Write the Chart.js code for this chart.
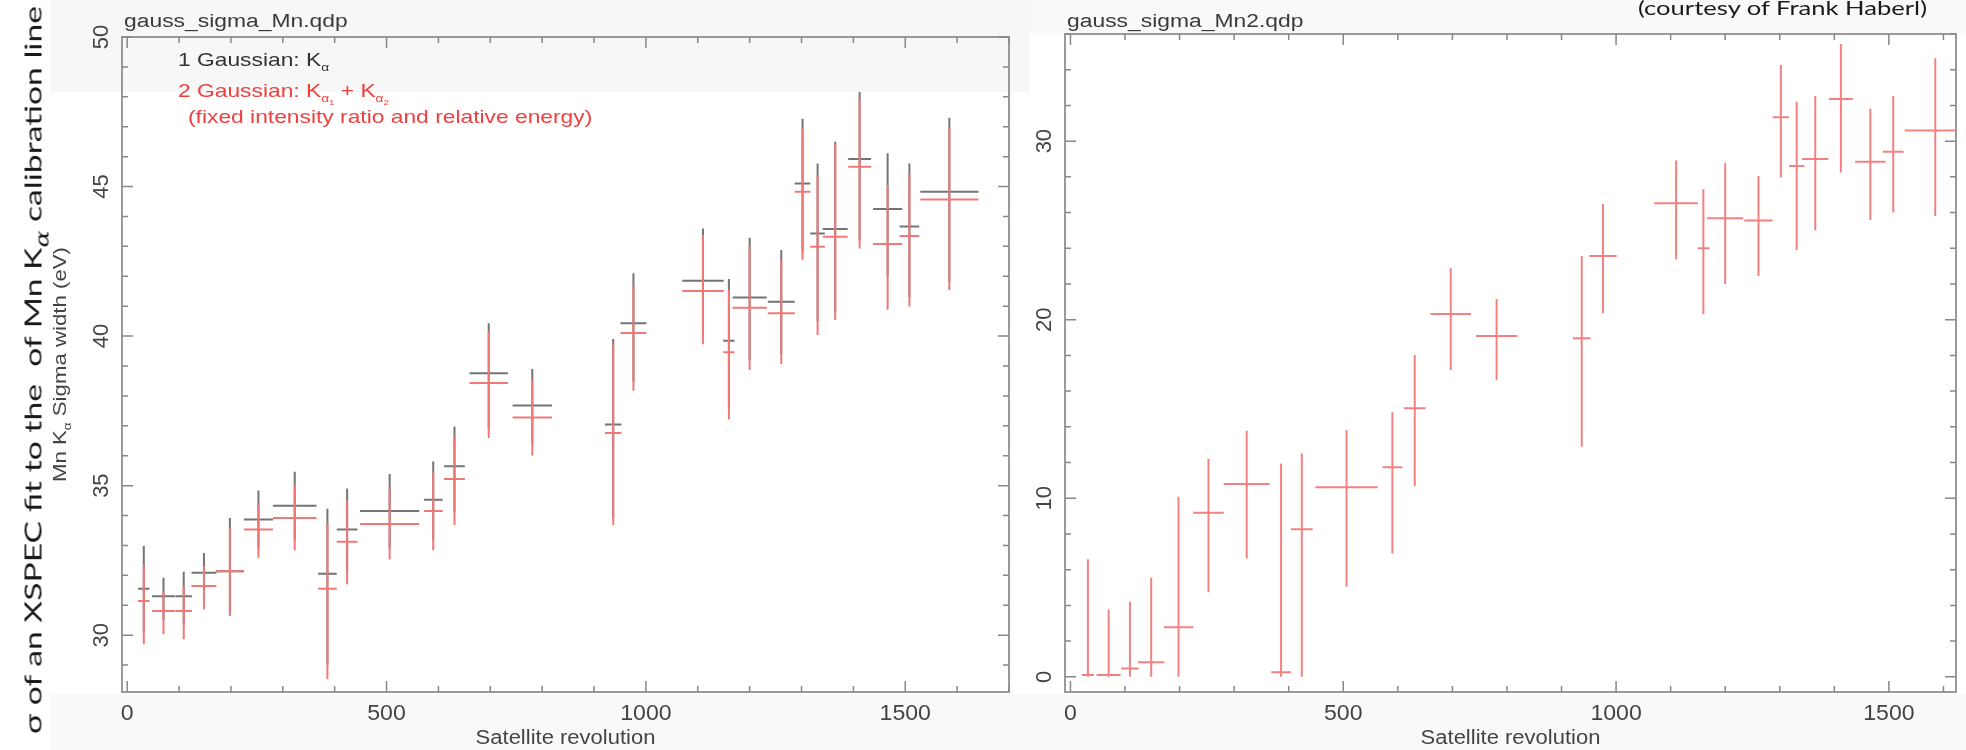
<!DOCTYPE html>
<html>
<head>
<meta charset="utf-8">
<script src="https://cdn.jsdelivr.net/npm/chart.js@4.4.0/dist/chart.umd.min.js"></script>
<style>
  body { margin: 0; width: 1966px; height: 750px; background: #fff; position: relative; overflow: hidden; }
  .band { position: absolute; background: #f7f7f7; }
  canvas { position: absolute; top: 0; }
  #mn1 { left: 0; }
  #mn2 { left: 1030px; }
  .note { position: absolute; font-family: Lato, "Open Sans", sans-serif; color: #1a1a1a; white-space: nowrap; }
  #side { left: 34px; top: 370px; font-size: 24px; line-height: 28px; transform-origin: 0 0; }
  #side i { font-family: "DejaVu Serif", serif; font-size: 18px; position: relative; top: 7px; }
  #credit { font-size: 20px; top: -5px; left: 1638px; transform-origin: 0 0; }
</style>
</head>
<body>
<div class="band" style="left:50px;top:0;width:980px;height:92px"></div>
<div class="band" style="left:50px;top:694px;width:1916px;height:56px;background:#f9f9f9"></div>
<div class="band" style="left:1030px;top:0;width:936px;height:33px;background:#f9f9f9"></div>
<canvas id="mn1" width="1030" height="750"></canvas>
<canvas id="mn2" width="936" height="750"></canvas>
<div class="note" id="side">σ of an XSPEC fit to the &nbsp;of Mn K<i>α</i> calibration line</div>
<div class="note" id="credit">(courtesy of Frank Haberl)</div>
<script>
// satellite revolution bins (centre and half width)
const revolution   = [32, 70, 109, 148, 198, 253, 323, 386, 424, 506, 590, 631, 697, 781, 937, 976, 1110, 1160, 1200, 1261, 1302, 1331, 1365, 1412, 1466, 1508, 1585];
const revHalfWidth = [11, 22, 16, 24, 27, 28, 42, 18, 20, 57, 18, 20, 37, 38, 16, 25, 40, 11, 33, 26, 15, 14, 24, 22, 28, 19, 56];

// gauss_sigma_Mn.qdp : 1 Gaussian (K alpha)
const sigma1G     = [31.55, 31.30, 31.30, 32.09, 32.14, 33.87, 34.33, 32.05, 33.53, 34.15, 34.53, 35.65, 38.76, 37.68, 37.04, 40.43, 41.85, 39.84, 41.29, 41.15, 45.10, 43.43, 43.58, 45.92, 44.25, 43.66, 44.83];
const sigma1GLow  = [30.10, 30.50, 30.35, 31.30, 30.70, 32.90, 33.20, 29.00, 32.10, 32.90, 33.20, 34.10, 36.90, 36.40, 33.90, 38.50, 40.10, 37.60, 39.20, 39.40, 42.80, 40.50, 40.80, 43.20, 42.00, 41.30, 41.80];
const sigma1GHigh = [32.98, 31.92, 32.12, 32.75, 33.92, 34.84, 35.46, 34.23, 34.90, 35.39, 35.81, 36.98, 40.43, 38.90, 39.90, 42.10, 43.60, 41.91, 43.29, 42.88, 47.27, 45.77, 46.50, 48.16, 46.11, 45.77, 47.30];

// gauss_sigma_Mn.qdp : 2 Gaussians (K alpha1 + K alpha2)
const sigma2G     = [31.14, 30.81, 30.81, 31.64, 32.14, 33.53, 33.92, 31.55, 33.12, 33.72, 34.15, 35.22, 38.43, 37.28, 36.76, 40.10, 41.51, 39.46, 40.95, 40.76, 44.83, 42.99, 43.32, 45.66, 43.08, 43.35, 44.57];
const sigma2GLow  = [29.70, 30.03, 29.86, 30.86, 30.64, 32.59, 32.84, 28.53, 31.70, 32.53, 32.84, 33.68, 36.59, 36.01, 33.68, 38.17, 39.73, 37.21, 38.87, 39.06, 42.55, 40.04, 40.54, 42.93, 40.88, 40.99, 41.54];
const sigma2GHigh = [32.37, 31.47, 31.64, 32.31, 33.59, 34.37, 35.04, 33.76, 34.50, 34.95, 35.46, 36.65, 40.15, 38.54, 39.73, 41.71, 43.38, 41.54, 42.99, 42.55, 46.94, 45.38, 46.44, 47.94, 45.05, 45.44, 47.00];

// gauss_sigma_Mn2.qdp
const sigmaMn2     = [0.10, 0.10, 0.47, 0.81, 2.77, 9.19, 10.80, 0.25, 8.27, 10.61, 11.73, 15.04, 20.32, 19.09, 18.96, 23.57, 26.52, 24.00, 25.68, 25.55, 31.34, 28.61, 29.00, 32.36, 28.85, 29.41, 30.59];
const sigmaMn2Low  = [0, 0, 0, 0, 0, 4.73, 6.63, 0, 0, 5.04, 6.91, 10.68, 17.18, 16.62, 12.89, 20.36, 23.38, 20.30, 22.00, 22.45, 27.97, 23.90, 24.99, 28.24, 25.58, 26.00, 25.81];
const sigmaMn2High = [6.58, 3.77, 4.20, 5.55, 10.08, 12.21, 13.78, 11.95, 12.51, 13.82, 14.81, 18.02, 22.88, 21.16, 23.57, 26.48, 28.91, 27.30, 28.76, 28.05, 34.27, 32.21, 32.53, 35.44, 31.81, 32.53, 34.64];

// tick labels
const xTickLabels = [0, 500, 1000, 1500];
const yTicksMn    = [30, 35, 40, 45, 50];
const yTicksMn2   = [0, 10, 20, 30];

const FONT = '"Liberation Sans", Arial, sans-serif';
const RED = '#f27878';
const PINK = '#f28282';
const BLACK = '#747474';

function crosses(y, lo, hi) {
  return revolution.map((x, i) => ({
    x, y: y[i],
    xl: x - revHalfWidth[i], xh: x + revHalfWidth[i],
    yl: lo[i], yh: hi[i]
  }));
}

// text made of runs, some of them subscripts (level 1 or 2)
function drawRuns(ctx, runs, x, y, size, color, align, rot, sx) {
  ctx.save();
  ctx.translate(x, y);
  if (rot) ctx.rotate(rot);
  ctx.scale(sx || 1, 1);
  ctx.fillStyle = color;
  ctx.textBaseline = 'alphabetic';
  const sz = r => r.sub === 2 ? size * 0.42 : r.sub === 1 ? size * 0.6 : size;
  const dy = r => r.sub === 2 ? size * 0.42 : r.sub === 1 ? size * 0.25 : 0;
  let w = 0;
  runs.forEach(r => { ctx.font = sz(r) + 'px ' + FONT; w += ctx.measureText(r.t).width; });
  let cx = align === 'center' ? -w / 2 : align === 'right' ? -w : 0;
  runs.forEach(r => {
    ctx.font = sz(r) + 'px ' + FONT;
    ctx.fillText(r.t, cx, dy(r));
    cx += ctx.measureText(r.t).width;
  });
  ctx.restore();
}

const errorBars = {
  id: 'errorBars',
  afterDatasetsDraw(chart) {
    const { ctx, chartArea: a, scales: { x, y } } = chart;
    ctx.save();
    ctx.beginPath();
    ctx.rect(a.left, a.top, a.right - a.left, a.bottom - a.top);
    ctx.clip();
    chart.data.datasets.forEach(ds => {
      ctx.strokeStyle = ds.borderColor;
      ctx.lineWidth = ds.borderWidth;
      ds.data.forEach(p => {
        const px = x.getPixelForValue(p.x), py = y.getPixelForValue(p.y);
        ctx.beginPath();
        ctx.moveTo(x.getPixelForValue(p.xl), py);
        ctx.lineTo(x.getPixelForValue(p.xh), py);
        ctx.moveTo(px, y.getPixelForValue(p.yl));
        ctx.lineTo(px, y.getPixelForValue(p.yh));
        ctx.stroke();
      });
    });
    ctx.restore();
  }
};

// qdp style frame: inward ticks on all four sides, rotated y labels
const qdpFrame = {
  id: 'qdpFrame',
  afterDraw(chart, args, o) {
    const { ctx, chartArea: a, scales: { x, y } } = chart;
    ctx.save();
    ctx.strokeStyle = '#9a9a9a';
    ctx.lineWidth = 2;
    ctx.strokeRect(a.left, a.top, a.right - a.left, a.bottom - a.top);
    ctx.lineWidth = 1.5;
    ctx.strokeStyle = '#888';
    ctx.beginPath();
    for (let v = 0; v <= x.max; v += o.xMinor) {
      const px = x.getPixelForValue(v);
      const len = v % o.xMajor === 0 ? 11 : 6;
      ctx.moveTo(px, a.bottom); ctx.lineTo(px, a.bottom - len);
      ctx.moveTo(px, a.top); ctx.lineTo(px, a.top + len);
    }
    for (let v = Math.ceil(y.min / o.yMinor) * o.yMinor; v <= y.max; v += o.yMinor) {
      const py = y.getPixelForValue(v);
      const len = v % o.yMajor === 0 ? 11 : 6;
      ctx.moveTo(a.left, py); ctx.lineTo(a.left + len, py);
      ctx.moveTo(a.right, py); ctx.lineTo(a.right - len, py);
    }
    ctx.stroke();

    const grey = '#444';
    xTickLabels.forEach(v => {
      drawRuns(ctx, [{ t: String(v) }], x.getPixelForValue(v), a.bottom + 28, 22, grey, 'center', 0, 1.05);
    });
    o.yTicks.forEach(v => {
      drawRuns(ctx, [{ t: String(v) }], a.left - 22 + 8, y.getPixelForValue(v), 22, grey, 'center', -Math.PI / 2, 1);
    });
    drawRuns(ctx, [{ t: 'Satellite revolution' }], (a.left + a.right) / 2, a.bottom + 52, 20, grey, 'center', 0, 1.1);
    drawRuns(ctx, [{ t: o.title }], a.left + 2, 27, 18, '#3a3a3a', 'left', 0, 1.27);
    if (o.yTitle) {
      drawRuns(ctx, o.yTitle, 66, (a.top + a.bottom) / 2, 19, grey, 'center', -Math.PI / 2, 1.17);
    }
    if (o.legend) {
      o.legend.forEach(l => drawRuns(ctx, l.runs, l.x, l.y, 19, l.color, 'left', 0, 1.2));
    }
    ctx.restore();
  }
};

function makeChart(id, datasets, padding, yMin, yMax, xMax, frame) {
  return new Chart(document.getElementById(id), {
    type: 'scatter',
    data: { datasets },
    options: {
      responsive: false,
      animation: false,
      layout: { padding },
      elements: { point: { radius: 0, hoverRadius: 0 } },
      scales: {
        x: { type: 'linear', min: -10, max: xMax, display: false },
        y: { type: 'linear', min: yMin, max: yMax, display: false }
      },
      plugins: { legend: { display: false }, tooltip: { enabled: false }, qdpFrame: frame }
    },
    plugins: [errorBars, qdpFrame]
  });
}

makeChart('mn1', [
  { label: '1 Gaussian', data: crosses(sigma1G, sigma1GLow, sigma1GHigh), borderColor: BLACK, borderWidth: 2 },
  { label: '2 Gaussian', data: crosses(sigma2G, sigma2GLow, sigma2GHigh), borderColor: RED, borderWidth: 2 }
], { left: 122, right: 21, top: 37, bottom: 58 }, 28.1, 50, 1700, {
  xMinor: 100, xMajor: 500, yMinor: 1, yMajor: 5,
  yTicks: yTicksMn,
  title: 'gauss_sigma_Mn.qdp',
  yTitle: [{ t: 'Mn K' }, { t: 'α', sub: 1 }, { t: ' Sigma width (eV)' }],
  legend: [
    { x: 178, y: 66, color: '#333', runs: [{ t: '1 Gaussian: K' }, { t: 'α', sub: 1 }] },
    { x: 178, y: 97, color: '#ee4040', runs: [{ t: '2 Gaussian: K' }, { t: 'α', sub: 1 }, { t: '1', sub: 2 }, { t: ' + K' }, { t: 'α', sub: 1 }, { t: '2', sub: 2 }] },
    { x: 188, y: 123, color: '#ee4040', runs: [{ t: '(fixed intensity ratio and relative energy)' }] }
  ]
});

makeChart('mn2', [
  { label: 'Mn2', data: crosses(sigmaMn2, sigmaMn2Low, sigmaMn2High), borderColor: PINK, borderWidth: 2 }
], { left: 35, right: 10, top: 34, bottom: 58 }, -0.85, 36, 1623, {
  xMinor: 100, xMajor: 500, yMinor: 2, yMajor: 10,
  yTicks: yTicksMn2,
  title: 'gauss_sigma_Mn2.qdp'
});

// fit the slide annotations to the lengths they have in the picture
function fit(el, target, rotate) {
  const w = el.getBoundingClientRect().width;
  const s = target / w;
  if (rotate) {
    el.style.transform = 'rotate(-90deg) scaleX(' + s + ') translate(-50%, -50%)';
  } else {
    el.style.transform = 'scaleX(' + s + ')';
  }
}
fit(document.getElementById('side'), 728, true);
fit(document.getElementById('credit'), 289, false);
</script>
</body>
</html>
